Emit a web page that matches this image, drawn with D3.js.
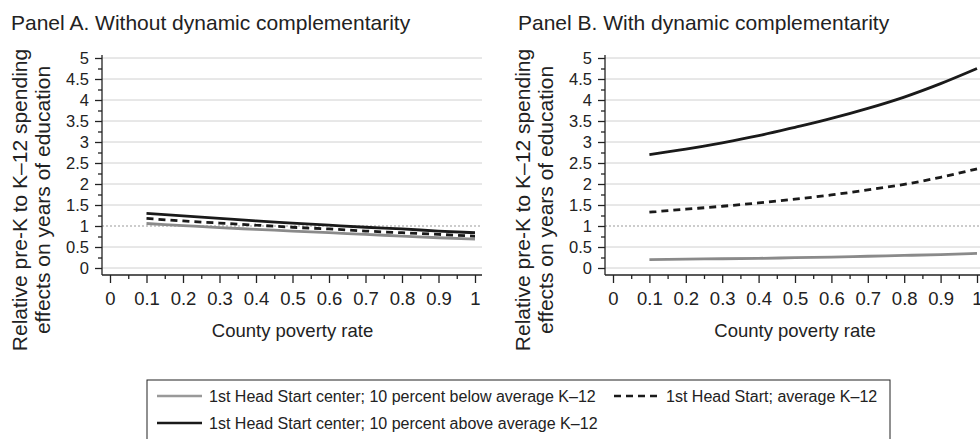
<!DOCTYPE html>
<html>
<head>
<meta charset="utf-8">
<script src="https://cdn.jsdelivr.net/npm/d3@7"></script>
<style>
  body { margin: 0; background: #fff; }
  svg text { font-family: "Liberation Sans", Arial, sans-serif; fill: #222; }
</style>
</head>
<body>
<div id="chart"></div>
<script>
// data
var povertyRate = [0.1, 0.2, 0.3, 0.4, 0.5, 0.6, 0.7, 0.8, 0.9, 1.0];

var belowA = [1.06, 1.01, 0.96, 0.92, 0.88, 0.84, 0.80, 0.76, 0.72, 0.69];
var averageA = [1.18, 1.12, 1.07, 1.02, 0.97, 0.93, 0.88, 0.84, 0.80, 0.76];
var aboveA = [1.30, 1.24, 1.18, 1.12, 1.07, 1.02, 0.97, 0.93, 0.88, 0.84];

var belowB = [0.20, 0.21, 0.22, 0.23, 0.245, 0.26, 0.28, 0.30, 0.32, 0.35];
var averageB = [1.33, 1.40, 1.47, 1.55, 1.64, 1.74, 1.86, 1.99, 2.16, 2.36];
var aboveB = [2.70, 2.83, 2.98, 3.15, 3.35, 3.56, 3.80, 4.07, 4.39, 4.75];

var xTicks = [0, 0.1, 0.2, 0.3, 0.4, 0.5, 0.6, 0.7, 0.8, 0.9, 1];
var yTicks = [0, 0.5, 1, 1.5, 2, 2.5, 3, 3.5, 4, 4.5, 5];

var legendLabels = [
  "1st Head Start center; 10 percent below average K\u201312",
  "1st Head Start; average K\u201312",
  "1st Head Start center; 10 percent above average K\u201312"
];

var width = 980, height = 439;

var svg = d3.select("#chart").append("svg")
    .attr("width", width)
    .attr("height", height);

var styles = [
  { color: "#8a8a8a", dash: null },
  { color: "#1a1a1a", dash: "7,5" },
  { color: "#1a1a1a", dash: null }
];

var panels = [
  { title: "Panel A. Without dynamic complementarity", axisX: 102, x0: 110, x1: 475, right: 482, titleX: 11,
    series: [belowA, averageA, aboveA] },
  { title: "Panel B. With dynamic complementarity", axisX: 605, x0: 613, x1: 977, right: 980, titleX: 518,
    series: [belowB, averageB, aboveB] }
];

var yTop = 58, yBottom = 268, xAxisY = 275;

panels.forEach(function(p) {
  var g = svg.append("g");

  var x = d3.scaleLinear().domain([0, 1]).range([p.x0, p.x1]);
  var y = d3.scaleLinear().domain([0, 5]).range([yBottom, yTop]);

  // title
  g.append("text")
      .attr("x", p.titleX)
      .attr("y", 30)
      .style("font-size", "21px")
      .text(p.title);

  // gridlines
  g.selectAll(".grid")
      .data(yTicks)
    .enter().append("line")
      .attr("x1", p.axisX)
      .attr("x2", p.right)
      .attr("y1", function(d) { return y(d); })
      .attr("y2", function(d) { return y(d); })
      .attr("stroke", function(d) { return d === 1 ? "none" : "#d0d0d0"; })
      .attr("stroke-width", 1);

  // reference line at 1
  g.append("line")
      .attr("x1", p.axisX)
      .attr("x2", p.right)
      .attr("y1", y(1))
      .attr("y2", y(1))
      .attr("stroke", "#999")
      .attr("stroke-width", 1.2)
      .attr("stroke-dasharray", "2,2");

  // y axis
  var yAxis = d3.axisLeft(y).tickValues(yTicks).tickSize(7).tickPadding(6)
      .tickFormat(function(d) { return d3.format("")(d); });
  var ya = g.append("g")
      .attr("transform", "translate(" + p.axisX + ",0)")
      .call(yAxis);
  var yMinor = d3.axisLeft(y).tickValues(d3.range(0.25, 5, 0.5)).tickSize(4).tickFormat("");
  g.append("g")
      .attr("transform", "translate(" + p.axisX + ",0)")
      .call(yMinor)
      .select(".domain").remove();
  ya.select(".domain").attr("d", "M0," + (yTop - 3) + "V" + (xAxisY));
  ya.selectAll(".tick text").style("font-size", "16.5px");

  // x axis
  var xAxis = d3.axisBottom(x).tickValues(xTicks).tickSize(8).tickPadding(9)
      .tickFormat(function(d) { return d3.format("")(d); });
  var xa = g.append("g")
      .attr("transform", "translate(0," + xAxisY + ")")
      .call(xAxis);
  xa.select(".domain").attr("d", "M" + p.axisX + ",0H" + p.right);
  xa.selectAll(".tick text").style("font-size", "18.5px");
  var xMinor = d3.axisBottom(x).tickValues(d3.range(0.05, 1, 0.1)).tickSize(4).tickFormat("");
  g.append("g")
      .attr("transform", "translate(0," + xAxisY + ")")
      .call(xMinor)
      .select(".domain").remove();

  g.selectAll(".tick text").attr("fill", "#222");
  g.selectAll(".domain, .tick line").attr("stroke", "#222").attr("stroke-width", 1.3);

  // axis titles
  g.append("text")
      .attr("x", (p.x0 + p.x1) / 2)
      .attr("y", 337)
      .attr("text-anchor", "middle")
      .style("font-size", "18.5px")
      .text("County poverty rate");

  var yt = g.append("text")
      .attr("transform", "translate(" + (p.axisX - 75) + ",200) rotate(-90)")
      .attr("text-anchor", "middle")
      .style("font-size", "21px");
  yt.append("tspan").attr("x", 0).attr("dy", 0).text("Relative pre-K to K\u201312 spending");
  yt.append("tspan").attr("x", 0).attr("dy", 23).text("effects on years of education");

  // lines
  var line = d3.line()
      .x(function(d, i) { return x(povertyRate[i]); })
      .y(function(d) { return y(d); })
      .curve(d3.curveMonotoneX);

  p.series.forEach(function(s, i) {
    g.append("path")
        .datum(s)
        .attr("d", line)
        .attr("fill", "none")
        .attr("stroke", styles[i].color)
        .attr("stroke-width", 2.8)
        .attr("stroke-dasharray", styles[i].dash);
  });
});

// legend
var legend = svg.append("g");
legend.append("rect")
    .attr("x", 147)
    .attr("y", 380)
    .attr("width", 743)
    .attr("height", 70)
    .attr("fill", "none")
    .attr("stroke", "#222")
    .attr("stroke-width", 1);

var legendPos = [
  { x: 157, y: 396 },
  { x: 614, y: 396 },
  { x: 157, y: 423 }
];

// first label spans about 387px in the figure, size the legend font from it
var probe = legend.append("text").style("font-size", "16px").text(legendLabels[0]);
var legendSize = 16 * 387 / probe.node().getComputedTextLength();
probe.remove();

legendLabels.forEach(function(label, i) {
  var pos = legendPos[i];
  legend.append("line")
      .attr("x1", pos.x)
      .attr("x2", pos.x + 45)
      .attr("y1", pos.y)
      .attr("y2", pos.y)
      .attr("stroke", i === 0 ? "#999" : styles[i].color)
      .attr("stroke-width", 2.6)
      .attr("stroke-dasharray", styles[i].dash);
  legend.append("text")
      .attr("x", pos.x + 52)
      .attr("y", pos.y + 5.5)
      .style("font-size", legendSize + "px")
      .text(label);
});
</script>
</body>
</html>
